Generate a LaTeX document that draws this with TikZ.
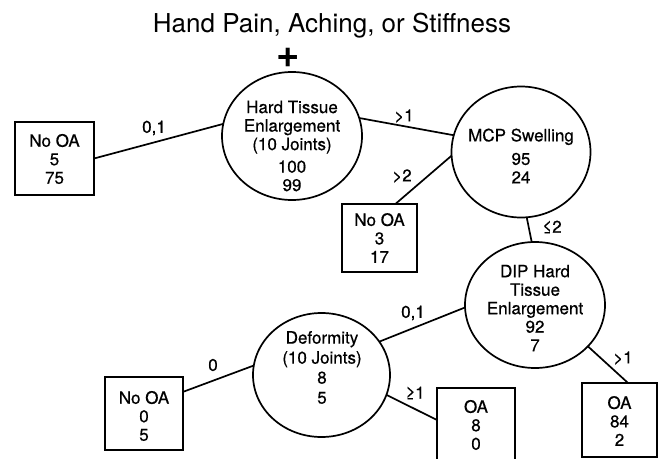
\documentclass[tikz,border=0pt]{standalone}
\usepackage{fontspec}
\setmainfont{TeX Gyre Heros}
\newfontfamily\medfont[FakeBold=0.6]{TeX Gyre Heros}
\usetikzlibrary{shapes.geometric,calc}
\begin{document}
\begin{tikzpicture}[x=1pt,y=-1pt,
  every node/.style={inner sep=0pt, outer sep=0pt},
  split/.style={draw, ellipse, line width=1.7pt},
  leaf/.style={draw, rectangle, line width=1.7pt},
  txt/.style={align=center, font=\medfont\fontsize{17}{18.5}\selectfont},
  lab/.style={font=\medfont\fontsize{17}{18}\selectfont},
  conn/.style={line width=1.7pt}]
\clip (0,0) rectangle (658,458);
% title
\node[anchor=base, font=\fontsize{26}{28}\selectfont] (title) at (332,32) {Hand Pain, Aching, or Stiffness};
\node[font=\fontsize{40}{40}\selectfont\bfseries] (plus) at (288,58) {+};
% split nodes
\node[split, minimum width=140, minimum height=128] (c1) at (292,136) {};
\node[split, minimum width=139, minimum height=131] (c2) at (521,152) {};
\node[split, minimum width=140, minimum height=126] (c3) at (535,305) {};
\node[split, minimum width=137, minimum height=124] (c4) at (321.5,375) {};
\node[txt] (c1t) at (292,146) {Hard Tissue\\Enlargement\\(10 Joints)\\[4pt]100\\99};
\node[txt] (c2t) at (521,156) {MCP Swelling\\[5pt]95\\24};
\node[txt] (c3t) at (535,308) {DIP Hard\\Tissue\\Enlargement\\92\\7};
\node[txt, font=\medfont\fontsize{17}{20}\selectfont] (c4t) at (322,367.5) {Deformity\\(10 Joints)\\8\\5};
% leaves
\node[leaf, minimum width=79, minimum height=73] (b1) at (54.5,158.5) {};
\node[leaf, minimum width=75, minimum height=68] (b2) at (379.5,238) {};
\node[leaf, minimum width=78, minimum height=73] (b3) at (144,413.5) {};
\node[leaf, minimum width=78, minimum height=92] (b4) at (476,434) {};
\node[leaf, minimum width=75, minimum height=74] (b5) at (619.5,420) {};
\node[txt] (b1t) at (54.5,159) {No OA\\5\\75};
\node[txt] (b2t) at (379.5,238) {No OA\\3\\17};
\node[txt] (b3t) at (144,416) {No OA\\0\\5};
\node[txt] (b4t) at (476,425) {OA\\8\\0};
\node[txt] (b5t) at (619.5,421) {OA\\84\\2};
% connectors
\draw[conn] (b1.east) -- (c1.170);
\draw[conn] (c1.15) -- (c2.166);
\draw[conn] (c2.183) -- (b2.65);
\draw[conn] (c2.275) -- (c3.93);
\draw[conn] (c4.30) -- (c3.182);
\draw[conn] (c4.172) -- (b3.29);
\coordinate (b4in) at ($(b4.north west)+(0,32)$);
\draw[conn] (c4.343) -- (b4in);
\draw[conn] (c3.322) -- (b5.77);
% edge labels
\node[lab] (l1) at (154,128) {0,1};
\node[lab] (l2) at (404,116) {>1};
\node[lab] (l3) at (402,176) {>2};
\node[lab] (l4) at (552,227) {≤2};
\node[lab] (l5) at (413,313) {0,1};
\node[lab] (l6) at (213,365) {0};
\node[lab] (l7) at (415,393) {≥1};
\node[lab] (l8) at (623,358) {>1};
\end{tikzpicture}
\end{document}
